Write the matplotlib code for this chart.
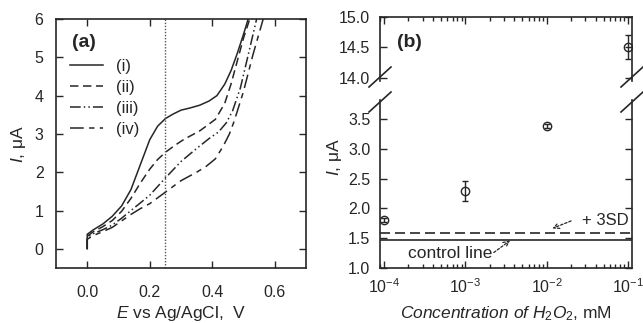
import matplotlib
matplotlib.use("Agg")
import matplotlib.pyplot as plt
from matplotlib.lines import Line2D
from matplotlib.ticker import FormatStrFormatter, LogLocator, NullFormatter

plt.rcParams['font.family'] = ['Liberation Sans', 'DejaVu Sans']
plt.rcParams['mathtext.fontset'] = 'custom'
plt.rcParams['mathtext.rm'] = 'Liberation Sans'
plt.rcParams['mathtext.it'] = 'Liberation Sans:italic'
plt.rcParams['mathtext.bf'] = 'Liberation Sans:bold'

# ---------------- data: panel (a) ----------------
E_i = [0, 0, 0.02, 0.05, 0.08, 0.11, 0.14, 0.17, 0.2, 0.225, 0.25, 0.275, 0.3, 0.33, 0.36, 0.39, 0.415, 0.44, 0.46, 0.48, 0.5, 0.515]
I_i = [0, 0.38, 0.5, 0.65, 0.85, 1.12, 1.55, 2.2, 2.85, 3.2, 3.4, 3.52, 3.62, 3.68, 3.75, 3.86, 4.0, 4.3, 4.65, 5.1, 5.6, 6.0]

E_ii = [0, 0, 0.02, 0.05, 0.08, 0.11, 0.14, 0.17, 0.2, 0.225, 0.25, 0.28, 0.31, 0.36, 0.41, 0.44, 0.46, 0.48, 0.5, 0.52]
I_ii = [0, 0.33, 0.45, 0.58, 0.74, 0.98, 1.32, 1.72, 2.08, 2.33, 2.52, 2.7, 2.86, 3.08, 3.38, 3.8, 4.3, 4.9, 5.5, 6.0]

E_iii = [0, 0, 0.02, 0.05, 0.08, 0.11, 0.14, 0.17, 0.2, 0.25, 0.3, 0.35, 0.39, 0.42, 0.445, 0.465, 0.49, 0.515, 0.542]
I_iii = [0, 0.3, 0.4, 0.5, 0.62, 0.8, 1.0, 1.2, 1.4, 1.85, 2.28, 2.62, 2.88, 3.05, 3.29, 3.6, 4.2, 5.06, 6.0]

E_iv = [0, 0, 0.02, 0.05, 0.08, 0.11, 0.14, 0.17, 0.2, 0.25, 0.3, 0.35, 0.38, 0.41, 0.435, 0.455, 0.47, 0.5, 0.53, 0.563]
I_iv = [0, 0.25, 0.35, 0.45, 0.56, 0.73, 0.9, 1.05, 1.18, 1.48, 1.78, 2.0, 2.15, 2.35, 2.68, 3.0, 3.33, 4.11, 5.06, 6.0]

curve_labels = ['(i)', '(ii)', '(iii)', '(iv)']
E_marker = 0.25

# ---------------- data: panel (b) ----------------
conc = [1e-4, 1e-3, 1e-2, 1e-1]
current = [1.81, 2.29, 3.38, 14.5]
current_err = [0.03, 0.165, 0.03, 0.2]
control_level = 1.475
sd3_level = 1.59

# ---------------- figure ----------------
fig = plt.figure(figsize=(6.43, 3.23), dpi=100)
W, H = 643.0, 323.0

def rect(l, t, r, b):
    return [l / W, 1 - b / H, (r - l) / W, (b - t) / H]

dark = '#262626'
TICK = 11.5
LAB = 12.5

# ---------- panel (a) ----------
axa = fig.add_axes(rect(56, 19, 306, 268))
styles = ['-', (0, (5.5, 3)), (0, (7, 2, 1, 2, 1, 2)), (0, (9, 3.5, 3.5, 3.5))]
for E, I, ls, lab in zip([E_i, E_ii, E_iii, E_iv], [I_i, I_ii, I_iii, I_iv], styles, curve_labels):
    axa.plot(E, I, color=dark, lw=1.1, linestyle=ls, label=lab)
axa.axvline(E_marker, color='#555555', lw=1.0, linestyle=(0, (1, 1.2)))
axa.set_xlim(-0.1, 0.7)
axa.set_ylim(-0.5, 6)
axa.set_xticks([0.0, 0.2, 0.4, 0.6])
axa.set_yticks([0, 1, 2, 3, 4, 5, 6])
axa.xaxis.set_major_formatter(FormatStrFormatter('%.1f'))
axa.tick_params(direction='in', top=True, right=True, length=5, width=1.0,
                labelsize=TICK, colors=dark)
axa.tick_params(axis='x', pad=12)
axa.tick_params(axis='y', pad=9)
axa.set_xlabel(r'$\mathit{E}$ vs Ag/AgCl,  V', fontsize=LAB, color=dark, labelpad=3)
axa.set_ylabel(r'$\mathit{I}$, μA', fontsize=LAB, color=dark, labelpad=5)
for s in axa.spines.values():
    s.set_linewidth(1.2)
    s.set_color(dark)
axa.text(0.064, 0.904, '(a)', transform=axa.transAxes, fontsize=14,
         fontweight='bold', va='center', ha='left', color=dark)
axa.legend(loc='upper left', bbox_to_anchor=(0.055, 0.84), frameon=False,
           fontsize=12, handlelength=2.0, handletextpad=0.75, labelspacing=0.36,
           borderpad=0, borderaxespad=0, labelcolor=dark)

# ---------- panel (b) ----------
axu = fig.add_axes(rect(380, 16.7, 632, 80.8))
axl = fig.add_axes(rect(380, 100, 632, 268))

for ax in (axu, axl):
    ax.errorbar(conc, current, yerr=current_err, fmt='o', mfc='none', mec=dark,
                ecolor=dark, ms=6, mew=1.0, elinewidth=1.0, capsize=2.5, capthick=1.0)
    ax.set_xscale('log')
    ax.set_xlim(10 ** -4.049, 10 ** -0.951)
    ax.xaxis.set_major_locator(LogLocator(base=10, numticks=10))
    ax.xaxis.set_minor_locator(LogLocator(base=10, subs=range(2, 10), numticks=10))
    ax.tick_params(which='both', direction='in', right=True, width=1.0,
                   labelsize=TICK, colors=dark, pad=7)
    ax.tick_params(which='major', length=5)
    ax.tick_params(which='minor', length=3)
    for s in ax.spines.values():
        s.set_linewidth(1.2)
        s.set_color(dark)

axl.axhline(control_level, color=dark, lw=1.2)
axl.axhline(sd3_level, color=dark, lw=1.2, linestyle=(0, (6, 3)))

axu.set_ylim(13.95, 15.0)
axu.set_yticks([14.0, 14.5, 15.0])
axu.yaxis.set_major_formatter(FormatStrFormatter('%.1f'))
axu.spines['bottom'].set_visible(False)
axu.tick_params(which='both', bottom=False, labelbottom=False, top=True)

axl.set_ylim(1.0, 3.82)
axl.set_yticks([1.0, 1.5, 2.0, 2.5, 3.0, 3.5])
axl.yaxis.set_major_formatter(FormatStrFormatter('%.1f'))
axl.spines['top'].set_visible(False)
axl.tick_params(which='both', top=False, bottom=True)
axl.xaxis.set_minor_formatter(NullFormatter())

axl.set_xlabel(r'$\mathit{Concentration\ of\ H_2O_2}$, mM', fontsize=LAB, color=dark, labelpad=6)
fig.text(334 / W, 1 - 157 / H, r'$\mathit{I}$, μA', rotation=90, fontsize=LAB,
         color=dark, ha='center', va='center')

axu.text(0.067, 0.59, '(b)', transform=axu.transAxes, fontsize=14,
         fontweight='bold', va='center', ha='left', color=dark)

# annotations
axl.text(10 ** -1.56, 1.79, '+ 3SD', fontsize=12, color=dark, va='center', ha='left')
axl.annotate('', xy=(10 ** -1.93, 1.665), xytext=(10 ** -1.7, 1.79),
             arrowprops=dict(arrowstyle='->', color=dark, lw=0.9, linestyle=(0, (2, 1.5)),
                             shrinkA=0, shrinkB=0))
axl.text(10 ** -2.67, 1.245, 'control line', fontsize=12.5, color=dark, va='center', ha='right')
axl.annotate('', xy=(10 ** -2.45, 1.46), xytext=(10 ** -2.65, 1.26),
             arrowprops=dict(arrowstyle='->', color=dark, lw=0.9, linestyle=(0, (2, 1.5)),
                             shrinkA=0, shrinkB=0))

# break marks
for xc in (380, 632):
    for yc in (77, 102):
        fig.add_artist(Line2D([(xc - 11) / W, (xc + 11) / W],
                              [1 - (yc + 10) / H, 1 - (yc - 10) / H],
                              transform=fig.transFigure, color=dark, lw=1.2))

fig.savefig('out.png', dpi=100)
